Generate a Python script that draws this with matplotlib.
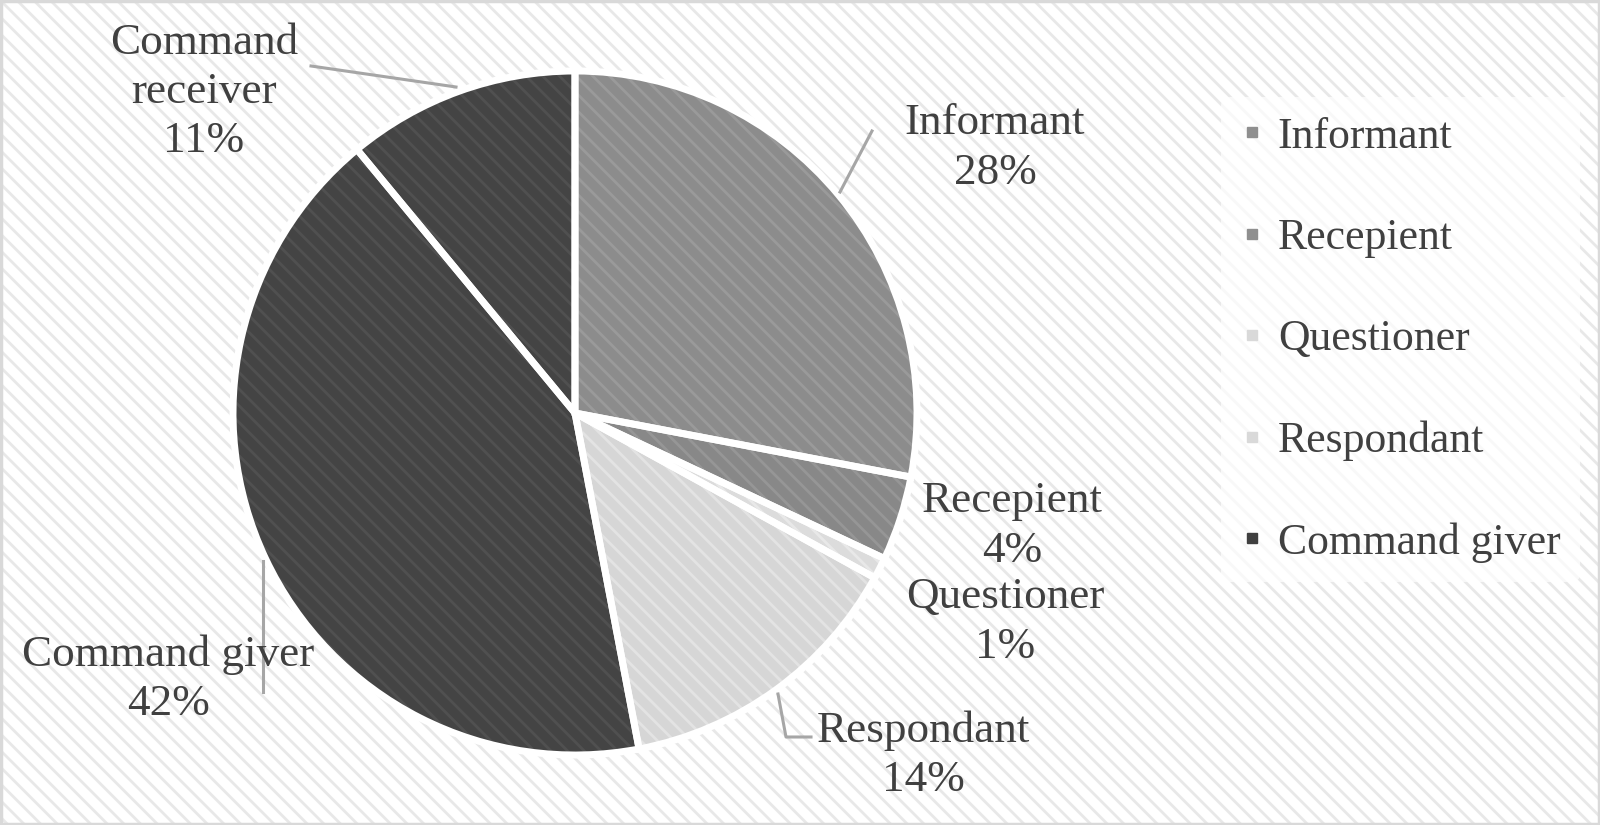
import numpy as np
import matplotlib.pyplot as plt
from matplotlib.patches import Rectangle
from matplotlib.lines import Line2D

plt.rcParams['font.family'] = ['Liberation Serif', 'DejaVu Serif']
plt.rcParams['hatch.linewidth'] = 2.0

roles = ['Informant', 'Recepient', 'Questioner', 'Respondant', 'Command giver', 'Command receiver']
shares = [28, 4, 1, 14, 42, 11]
legend_roles = roles[:5]   # the original legend leaves out the last slice

face = ['#8c8c8c', '#888888', '#dcdcdc', '#d6d6d6', '#444444', '#444444']
stripe = ['#9a9a9a', '#969696', '#e8e8e8', '#e3e3e3', '#505050', '#505050']
txt_col = '#404040'

fig = plt.figure(figsize=(16, 8.25), dpi=100)
ax = fig.add_axes([0, 0, 1, 1])

# striped background + thin border
ax.add_patch(Rectangle((0, 0), 1600, 825, facecolor='white', edgecolor='#e8e8e8',
                       hatch='\\\\', lw=0, zorder=0))
ax.add_patch(Rectangle((1, 1), 1598, 823, facecolor='none', edgecolor='#d9d9d9',
                       lw=2.5, zorder=5))

cx, cy, r = 575, 825 - 413, 342

# filled, striped slices
wedges, _ = ax.pie(shares, startangle=90, counterclock=False, center=(cx, cy), radius=r,
                   colors=face, wedgeprops=dict(linewidth=0))
for w, sc in zip(wedges, stripe):
    w.set_hatch('\\\\')
    w.set_edgecolor(sc)
    w.set_linewidth(0)
    w.set_zorder(2)
# white gaps between slices
outl, _ = ax.pie(shares, startangle=90, counterclock=False, center=(cx, cy), radius=r,
                 colors=['none'] * len(shares),
                 wedgeprops=dict(linewidth=5, edgecolor='white', facecolor='none'))
for w in outl:
    w.set_zorder(3)

ax.set_xlim(0, 1600)
ax.set_ylim(0, 825)
ax.set_aspect('equal')
ax.axis('off')

# data labels (pixel positions from top-left)
lab_pos = {
    'Informant': (995, 148),
    'Recepient': (1012, 526),
    'Questioner': (1005, 622),
    'Respondant': (923, 755),
    'Command giver': (168, 679),
    'Command receiver': (204, 92),
}
for name, val in zip(roles, shares):
    x, y = lab_pos[name]
    lbl = 'Command\nreceiver' if name == 'Command receiver' else name
    ax.text(x, 825 - y, f'{lbl}\n{val}%', ha='center', va='center', fontsize=32.5,
            color=txt_col, linespacing=1.3, zorder=6)

# leader lines
leaders = [
    [(872, 131), (840, 192)],
    [(811, 737), (786, 737), (778, 694)],
    [(263, 692), (263, 561)],
    [(311, 66), (456, 87)],
]
for pts in leaders:
    xs = [p[0] for p in pts]
    ys = [825 - p[1] for p in pts]
    ax.plot(xs, ys, color='#a6a6a6', lw=2.2, zorder=4)

leg_cols = ['#8f8f8f', '#8f8f8f', '#d9d9d9', '#d9d9d9', '#404040']
handles = [Line2D([], [], ls='none', marker='s', markersize=7.5, color=c, mec=c)
           for c in leg_cols]
leg = ax.legend(handles, legend_roles, loc='upper left',
                bbox_to_anchor=(1199 / 1600, 1 - 75 / 825), bbox_transform=fig.transFigure,
                fontsize=31.5, frameon=True, handlelength=0.5,
                handletextpad=0.35, labelspacing=1.4, borderpad=0.45)
leg.get_frame().set_facecolor('white')
leg.get_frame().set_alpha(0.7)
leg.get_frame().set_edgecolor('none')
for t in leg.get_texts():
    t.set_color(txt_col)

fig.savefig('out.png', dpi=100)
